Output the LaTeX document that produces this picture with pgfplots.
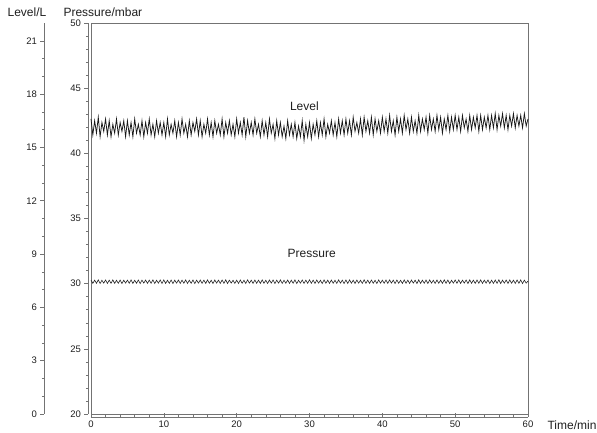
\documentclass[border=0pt]{standalone}
\usepackage{pgfplots}
\pgfplotsset{compat=1.18}
\usepackage{pgfplotstable}
\usepackage{fontspec}
\setmainfont{Liberation Sans}
\definecolor{axgray}{gray}{0.45}
\definecolor{txt}{gray}{0.12}

% Level (L), sampled every 0.25 min
\pgfplotstableread[header=false,row sep=\\]{
16.6\\15.7\\16.5\\15.8\\16.7\\15.6\\16.4\\15.9\\16.6\\15.7\\16.5\\15.6\\16.3\\15.8\\16.6\\15.7\\16.4\\15.9\\16.5\\15.6\\
16.5\\15.7\\16.4\\15.6\\16.6\\15.8\\16.3\\15.7\\16.5\\15.6\\16.4\\15.8\\16.6\\15.7\\16.3\\15.6\\16.5\\15.8\\16.4\\15.7\\
16.4\\15.6\\16.6\\15.7\\16.3\\15.8\\16.5\\15.6\\16.4\\15.7\\16.6\\15.8\\16.3\\15.6\\16.5\\15.7\\16.4\\15.9\\16.6\\15.7\\
16.5\\15.6\\16.3\\15.8\\16.6\\15.7\\16.4\\15.6\\16.5\\15.8\\16.3\\15.7\\16.6\\15.6\\16.4\\15.8\\16.5\\15.7\\16.3\\15.6\\
16.6\\15.8\\16.4\\15.7\\16.7\\15.6\\16.5\\15.8\\16.4\\15.7\\16.6\\15.8\\16.3\\15.6\\16.5\\15.7\\16.4\\15.6\\16.6\\15.8\\
16.3\\15.5\\16.5\\15.7\\16.4\\15.6\\16.2\\15.5\\16.5\\15.7\\16.3\\15.6\\16.4\\15.5\\16.2\\15.6\\16.5\\15.4\\16.3\\15.6\\
16.4\\15.5\\16.3\\15.7\\16.5\\15.6\\16.4\\15.7\\16.6\\15.6\\16.3\\15.8\\16.5\\15.7\\16.4\\15.6\\16.6\\15.8\\16.5\\15.7\\
16.6\\15.8\\16.5\\15.7\\16.7\\15.9\\16.4\\15.8\\16.6\\15.7\\16.7\\15.9\\16.5\\15.8\\16.7\\15.7\\16.6\\15.9\\16.5\\15.8\\
16.7\\15.9\\16.6\\15.8\\16.8\\15.9\\16.5\\15.7\\16.7\\15.9\\16.6\\15.8\\16.8\\16.0\\16.6\\15.8\\16.7\\15.9\\16.5\\15.8\\
16.8\\15.9\\16.6\\16.0\\16.7\\15.8\\16.8\\16.0\\16.6\\15.9\\16.8\\16.0\\16.7\\15.8\\16.6\\16.0\\16.8\\15.9\\16.7\\16.0\\
16.8\\16.0\\16.7\\15.9\\16.8\\16.1\\16.6\\15.9\\16.8\\16.0\\16.7\\16.1\\16.8\\15.9\\16.8\\16.0\\16.7\\16.1\\16.8\\16.0\\
16.8\\16.1\\16.9\\16.0\\16.8\\16.2\\16.9\\16.1\\16.8\\16.0\\16.8\\16.2\\16.9\\16.1\\16.8\\16.2\\16.8\\16.1\\16.9\\16.2\\16.6\\
}\levdata

% Pressure (mbar), sampled every 0.25 min
\pgfplotstableread[header=false,row sep=\\]{
30.28\\30.02\\30.27\\30.03\\30.29\\30.01\\30.26\\30.04\\30.28\\30.02\\30.27\\30.03\\30.29\\30.02\\30.26\\30.03\\30.28\\30.01\\30.27\\30.04\\
30.27\\30.03\\30.29\\30.02\\30.26\\30.03\\30.28\\30.01\\30.27\\30.04\\30.28\\30.02\\30.27\\30.03\\30.29\\30.01\\30.26\\30.04\\30.28\\30.02\\
30.29\\30.02\\30.26\\30.03\\30.28\\30.01\\30.27\\30.04\\30.28\\30.02\\30.27\\30.03\\30.29\\30.02\\30.26\\30.03\\30.28\\30.01\\30.27\\30.04\\
30.28\\30.03\\30.27\\30.02\\30.29\\30.03\\30.26\\30.01\\30.28\\30.04\\30.27\\30.02\\30.28\\30.03\\30.29\\30.01\\30.27\\30.04\\30.26\\30.02\\
30.27\\30.02\\30.28\\30.03\\30.26\\30.01\\30.29\\30.04\\30.27\\30.02\\30.28\\30.03\\30.27\\30.02\\30.29\\30.03\\30.26\\30.01\\30.28\\30.04\\
30.28\\30.01\\30.27\\30.04\\30.29\\30.02\\30.26\\30.03\\30.28\\30.02\\30.27\\30.03\\30.29\\30.01\\30.26\\30.04\\30.28\\30.02\\30.27\\30.03\\
30.29\\30.03\\30.27\\30.02\\30.28\\30.04\\30.26\\30.01\\30.29\\30.03\\30.27\\30.02\\30.28\\30.03\\30.26\\30.02\\30.29\\30.04\\30.27\\30.01\\
30.28\\30.02\\30.29\\30.03\\30.27\\30.01\\30.28\\30.04\\30.26\\30.02\\30.29\\30.03\\30.27\\30.02\\30.28\\30.03\\30.26\\30.01\\30.29\\30.04\\
30.27\\30.03\\30.28\\30.02\\30.29\\30.04\\30.27\\30.01\\30.28\\30.03\\30.26\\30.02\\30.29\\30.03\\30.27\\30.02\\30.28\\30.04\\30.27\\30.01\\
30.29\\30.02\\30.27\\30.03\\30.28\\30.01\\30.29\\30.04\\30.26\\30.02\\30.28\\30.03\\30.27\\30.02\\30.29\\30.03\\30.28\\30.01\\30.26\\30.04\\
30.28\\30.03\\30.29\\30.02\\30.27\\30.04\\30.28\\30.01\\30.29\\30.03\\30.27\\30.02\\30.28\\30.03\\30.29\\30.02\\30.27\\30.04\\30.28\\30.01\\
30.27\\30.02\\30.28\\30.03\\30.29\\30.01\\30.27\\30.04\\30.28\\30.02\\30.29\\30.03\\30.27\\30.02\\30.28\\30.03\\30.29\\30.01\\30.27\\30.04\\30.20\\
}\presdata

\begin{document}
\begin{tikzpicture}
\useasboundingbox (-91pt,-19pt) rectangle (506pt,414pt);
\pgfplotsset{
  base/.style={at={(0pt,0pt)}, anchor=south west, scale only axis,
    width=437pt, height=391pt, xmin=0, xmax=60, clip=false},
  every tick label/.append style={font=\fontsize{9.5}{11}\selectfont, text=txt},
  /pgf/number format/assume math mode=true,
  axis line style={-, axgray, line width=0.6pt},
  tick style={axgray, line width=0.5pt},
  major tick length=3.5pt, minor tick length=2pt,
}
% frame and pressure data
\begin{axis}[base, ymin=20, ymax=50, xtick=\empty, ytick=\empty]
\addplot[black!85, line width=0.6pt] table[x expr=\coordindex*0.25, y index=0] \presdata;
\node[font=\fontsize{12}{14}\selectfont, text=txt] at (axis cs:29.3,43.6) {Level};
\node[font=\fontsize{12}{14}\selectfont, text=txt] at (axis cs:30.3,32.3) {Pressure};
\end{axis}
% level data
\begin{axis}[base, ymin=0, ymax=22, hide axis]
\addplot[black!90, line width=0.75pt, line join=miter] table[x expr=\coordindex*0.25, y index=0] \levdata;
\end{axis}
% pressure axis
\begin{axis}[base, at={(-3pt,0pt)}, ymin=20, ymax=50, axis y line*=left, hide x axis,
  ytick={20,25,...,50}, minor y tick num=4, tick align=outside]
\end{axis}
% time axis
\begin{axis}[base, at={(0pt,-3pt)}, ymin=0, ymax=1, axis x line*=bottom, hide y axis,
  xtick={0,10,...,60}, minor x tick num=4, tick align=inside]
\end{axis}
% level axis
\begin{axis}[base, at={(-47pt,0pt)}, ymin=0, ymax=22, axis y line*=left, hide x axis,
  ytick={0,3,...,21}, minor y tick num=2, tick align=outside]
\end{axis}
\node[font=\fontsize{12}{14}\selectfont, text=txt] at (-64pt,402pt) {Level/L};
\node[font=\fontsize{12}{14}\selectfont, text=txt, anchor=west] at (-31pt,402pt) {Pressure/mbar};
\node[font=\fontsize{12}{14}\selectfont, text=txt, anchor=west] at (453pt,-11pt) {Time/min};
\end{tikzpicture}
\end{document}
